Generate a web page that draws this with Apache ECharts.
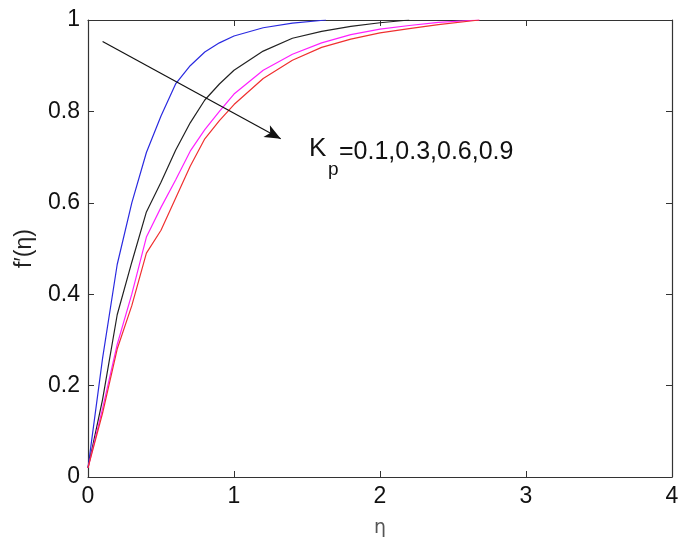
<!DOCTYPE html>
<html>
<head>
<meta charset="utf-8">
<script src="https://cdn.jsdelivr.net/npm/echarts@6/dist/echarts.min.js"></script>
<style>html,body{margin:0;padding:0;background:#fff;}#c{width:685px;height:543px;}</style>
</head>
<body>
<div id="c"></div>
<script>
// Kp = 0.1 (blue)
var etaBlue = [0, 0.1, 0.2, 0.3, 0.4, 0.5, 0.6, 0.7, 0.8, 0.9, 1.0, 1.2, 1.4, 1.63];
var fBlue   = [0.02, 0.26, 0.465, 0.6, 0.71, 0.79, 0.86, 0.9, 0.93, 0.95, 0.965, 0.983, 0.993, 1.0];
// Kp = 0.3 (black)
var etaBlack = [0, 0.1, 0.2, 0.3, 0.4, 0.5, 0.6, 0.7, 0.8, 0.9, 1.0, 1.2, 1.4, 1.6, 1.8, 2.0, 2.2];
var fBlack   = [0.02, 0.17, 0.355, 0.47, 0.58, 0.645, 0.715, 0.775, 0.825, 0.86, 0.89, 0.932, 0.96, 0.975, 0.986, 0.994, 1.0];
// Kp = 0.6 (magenta)
var etaMag = [0, 0.1, 0.2, 0.3, 0.4, 0.5, 0.6, 0.7, 0.8, 0.9, 1.0, 1.2, 1.4, 1.6, 1.8, 2.0, 2.2, 2.4, 2.68];
var fMag   = [0.02, 0.15, 0.29, 0.4, 0.525, 0.59, 0.65, 0.713, 0.76, 0.8, 0.838, 0.89, 0.925, 0.95, 0.968, 0.98, 0.988, 0.995, 1.0];
// Kp = 0.9 (red)
var etaRed = [0, 0.1, 0.2, 0.3, 0.4, 0.5, 0.6, 0.7, 0.8, 0.9, 1.0, 1.2, 1.4, 1.6, 1.8, 2.0, 2.2, 2.4, 2.68];
var fRed   = [0.02, 0.14, 0.28, 0.375, 0.49, 0.54, 0.61, 0.68, 0.74, 0.78, 0.815, 0.872, 0.912, 0.94, 0.958, 0.972, 0.981, 0.99, 1.0];

var xTicks = [0, 1, 2, 3, 4];
var yTicks = [0, 0.2, 0.4, 0.6, 0.8, 1];
var arrowFrom = [0.1, 0.953];
var arrowTo = [1.32, 0.74];
var annotation = '=0.1,0.3,0.6,0.9';

function pairs(xs, ys) { return xs.map(function (x, i) { return [x, ys[i]]; }); }

var chart = echarts.init(document.getElementById('c'), null, {renderer: 'canvas'});
var axisCol = '#333';
var tickFont = {fontFamily: 'Liberation Sans, Arial, sans-serif', fontSize: 23, color: '#111'};

function lineSeries(name, xs, ys, color) {
  return {
    name: name, type: 'line', data: pairs(xs, ys), showSymbol: false, symbol: 'none',
    lineStyle: {color: color, width: 1.2}, animation: false, z: 3
  };
}

var series = [
  lineSeries('0.1', etaBlue, fBlue, '#2a2ae0'),
  lineSeries('0.3', etaBlack, fBlack, '#222222'),
  lineSeries('0.6', etaMag, fMag, '#ff20ff'),
  lineSeries('0.9', etaRed, fRed, '#f03030')
];
series.push({
  type: 'line', data: [], animation: false,
  markLine: {
    silent: true, symbol: ['none', 'arrow'], symbolSize: [10, 16],
    label: {show: false},
    lineStyle: {color: '#111', width: 1.2, type: 'solid'},
    data: [[{coord: arrowFrom}, {coord: arrowTo}]]
  }
});

chart.setOption({
  backgroundColor: '#fff',
  animation: false,
  grid: {left: 88, top: 20, width: 584, height: 459, containLabel: false},
  xAxis: [{
    type: 'value', min: 0, max: 4, interval: 1,
    name: 'η', nameLocation: 'middle', nameGap: 42,
    nameTextStyle: {fontFamily: 'DejaVu Sans, sans-serif', fontSize: 19, color: '#555'},
    axisLine: {show: true, lineStyle: {color: axisCol, width: 1.2}},
    axisTick: {show: true, inside: true, length: 6, lineStyle: {color: axisCol}},
    axisLabel: Object.assign({margin: 8, formatter: function (v) { return String(v); }}, tickFont),
    splitLine: {show: false}
  }, {
    type: 'value', min: 0, max: 4, interval: 1, position: 'top',
    axisLine: {show: true, onZero: false, lineStyle: {color: axisCol, width: 1.2}},
    axisTick: {show: true, inside: true, length: 6, lineStyle: {color: axisCol}},
    axisLabel: {show: false}, splitLine: {show: false}
  }],
  yAxis: [{
    type: 'value', min: 0, max: 1, interval: 0.2,
    name: 'f′(η)', nameLocation: 'middle', nameGap: 52, nameRotate: 90,
    nameTextStyle: {fontFamily: 'Liberation Sans, Arial, sans-serif', fontSize: 23, color: '#222'},
    axisLine: {show: true, lineStyle: {color: axisCol, width: 1.2}},
    axisTick: {show: true, inside: true, length: 6, lineStyle: {color: axisCol}},
    axisLabel: Object.assign({margin: 8, formatter: function (v) { return String(Math.round(v * 10) / 10); }}, tickFont),
    splitLine: {show: false}
  }, {
    type: 'value', min: 0, max: 1, interval: 0.2, position: 'right',
    axisLine: {show: true, onZero: false, lineStyle: {color: axisCol, width: 1.2}},
    axisTick: {show: true, inside: true, length: 6, lineStyle: {color: axisCol}},
    axisLabel: {show: false}, splitLine: {show: false}
  }],
  series: series,
  graphic: [
    {type: 'text', left: 309, top: 136, style: {text: 'K', fontFamily: 'Liberation Sans, Arial, sans-serif', fontSize: 26, fill: '#111'}},
    {type: 'text', left: 328, top: 160, style: {text: 'p', fontFamily: 'Liberation Sans, Arial, sans-serif', fontSize: 19, fill: '#111'}},
    {type: 'text', left: 339, top: 140, style: {text: annotation, fontFamily: 'Liberation Sans, Arial, sans-serif', fontSize: 25, fill: '#111'}}
  ]
});
</script>
</body>
</html>
